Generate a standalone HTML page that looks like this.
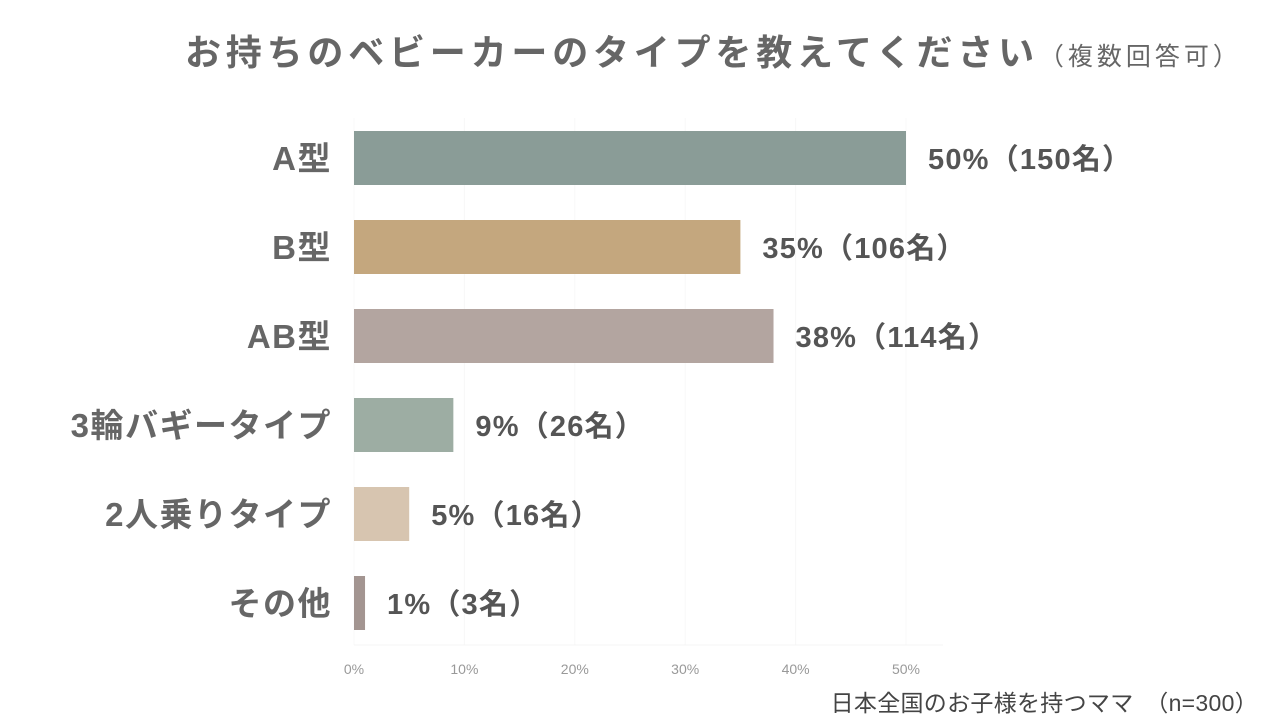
<!DOCTYPE html>
<html><head><meta charset="utf-8">
<style>
body{margin:0;width:1280px;height:720px;background:#fff;overflow:hidden;font-family:"Liberation Sans","Noto Sans CJK JP",sans-serif;}
#title{position:absolute;left:185px;top:24px;font-size:36px;font-weight:bold;color:#666;white-space:nowrap;letter-spacing:4.8px}
#title span{font-size:25px;font-weight:normal;color:#666;letter-spacing:4px;margin-left:0px}
#foot{position:absolute;right:22px;top:684px;font-size:23px;color:#444;white-space:nowrap;letter-spacing:0.3px}
</style></head><body>
<div id="title">お持ちのベビーカーのタイプを教えてください<span>（複数回答可）</span></div>
<svg id="chart" width="1280" height="720" style="position:absolute;left:0;top:0"></svg>
<div id="foot">日本全国のお子様を持つママ　（n=300）</div>
<script>
const categories=["A型","B型","AB型","3輪バギータイプ","2人乗りタイプ","その他"];
const values=[50,35,38,9,5,1];
const counts=[150,106,114,26,16,3];
const colors=["#8a9c97","#c4a77e","#b3a5a0","#9dada3","#d7c5b0","#a39591"];
const ticks=[0,10,20,30,40,50];
const NS="http://www.w3.org/2000/svg";
const svg=document.getElementById("chart");
const x=v=>354+v*11.04;
const y=i=>131+i*89;
const bh=54;
function mk(t,a){const e=document.createElementNS(NS,t);for(const k in a)e.setAttribute(k,a[k]);svg.appendChild(e);return e;}
ticks.forEach(t=>{
 const g=mk("line",{x1:x(t),x2:x(t),y1:118,y2:645,stroke:"#f8f8f8","stroke-width":1});
 
 
 const l=mk("text",{x:x(t),y:674,"text-anchor":"middle","font-size":14,fill:"#999"});
 l.textContent=t+"%";
 
 
});
const base=mk("line",{x1:354,x2:943,y1:645,y2:645,stroke:"#f4f4f4","stroke-width":1});


categories.forEach((c,i)=>{
 const r=mk("rect",{x:x(0),y:y(i),width:x(values[i])-x(0),height:bh,fill:colors[i]});
 
 
 const cl=mk("text",{x:332,y:y(i)+bh/2+12,"text-anchor":"end","font-size":33,"font-weight":"bold",fill:"#666","letter-spacing":"1.5"});
 cl.textContent=c;
 
 
 const vl=mk("text",{x:x(values[i])+22,y:y(i)+bh/2+11,"font-size":29,"font-weight":"bold",fill:"#555","letter-spacing":"1.2"});
 vl.textContent=values[i]+"%（"+counts[i]+"名）";
 
 
});
</script>
</body></html>
